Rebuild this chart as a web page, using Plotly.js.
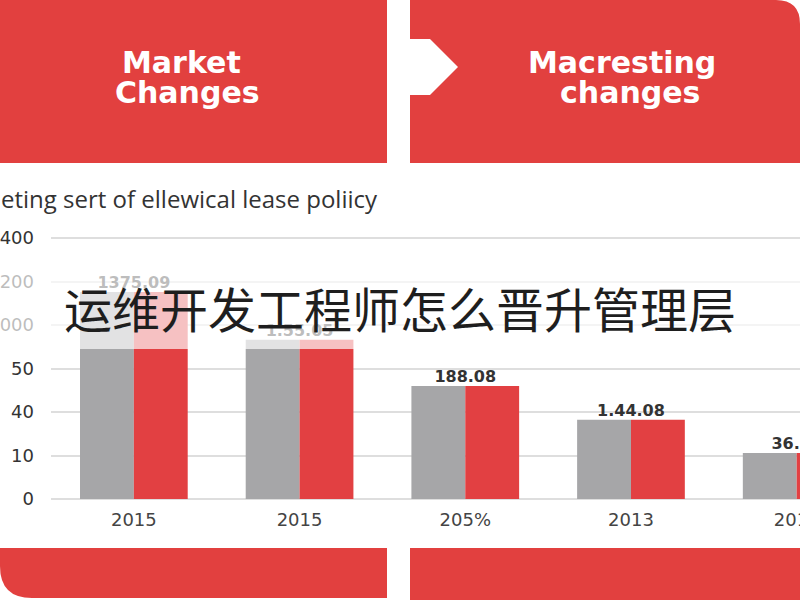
<!DOCTYPE html>
<html><head><meta charset="utf-8">
<script src="https://cdn.plot.ly/plotly-3.0.1.min.js"></script>
<style>html,body{margin:0;padding:0;background:#fff;overflow:hidden}#chart{width:800px;height:600px}</style>
</head><body><div id="chart"></div>
<script>
// ---- data ----
const categories = [0, 1, 2, 3, 4];
const tickLabels = ['2015', '2015', '205%', '2013', '2012'];
const seriesGray = [476, 366, 260, 182, 106];
const seriesRed = [476, 366, 260, 182, 106];
const barLabels = ['1375.09', '1.55.05', '188.08', '1.44.08', '36.18'];
const yTickVals = [0, 100, 200, 300, 400, 500, 600];
const yTickText = ['0', '10', '40', '50', '000', '200', '400'];
const subtitle = 'eting sert of ellewical lease poliicy';
const overlayText = '运维开发工程师怎么晋升管理层';

// ---- layout helpers (pixel -> paper) ----
const L = 51, R = 800, T = 225, B = 499;
const px = x => (x - L) / (R - L);
const py = y => (B - y) / (B - T);
const RED = '#E2403F';

const rightTop = `M ${px(410)},${py(0)} L ${px(776)},${py(0)} Q ${px(800)},${py(0)} ${px(800)},${py(24)} L ${px(800)},${py(163)} L ${px(410)},${py(163)} L ${px(410)},${py(95)} L ${px(430)},${py(95)} L ${px(458)},${py(67)} L ${px(430)},${py(39)} L ${px(410)},${py(39)} Z`;
const leftBottom = `M ${px(0)},${py(548)} L ${px(387)},${py(548)} L ${px(387)},${py(598)} L ${px(32)},${py(598)} Q ${px(0)},${py(598)} ${px(0)},${py(566)} Z`;

const traces = [
  {type: 'bar', x: categories, y: seriesGray, marker: {color: '#A6A6A8'}, hoverinfo: 'skip'},
  {type: 'bar', x: categories, y: seriesRed, marker: {color: '#E24042'}, hoverinfo: 'skip'},
  {type: 'scatter', mode: 'text', x: categories, y: seriesGray, text: barLabels,
   textposition: 'top center', cliponaxis: false, hoverinfo: 'skip',
   textfont: {family: 'DejaVu Sans', size: 16, color: '#333', weight: 'bold'}}
];

const hdr = (t, x, y) => ({text: t, x: px(x), y: py(y), xref: 'paper', yref: 'paper',
  showarrow: false, xanchor: 'center', yanchor: 'middle',
  font: {family: 'DejaVu Sans', size: 30, color: '#fff', weight: 'bold'}});

const layout = {
  width: 800, height: 600,
  margin: {l: L, r: 800 - R, t: T, b: 600 - B, pad: 0},
  paper_bgcolor: '#fff', plot_bgcolor: '#fff',
  showlegend: false,
  barmode: 'group', bargap: 0.35, bargroupgap: 0,
  xaxis: {range: [-0.5, 4.02], tickmode: 'array', tickvals: categories, ticktext: tickLabels,
    showgrid: false, zeroline: false, showline: false, ticks: '',
    ticklabelstandoff: 8, ticklabeloverflow: 'allow',
    tickfont: {family: 'DejaVu Sans', size: 18, color: '#444'}, fixedrange: true},
  yaxis: {range: [0, 630], tickmode: 'array', tickvals: yTickVals, ticktext: yTickText,
    showgrid: true, gridcolor: '#dedede', gridwidth: 2,
    zeroline: true, zerolinecolor: '#dedede', zerolinewidth: 2,
    showline: false, ticks: '', ticklabelstandoff: 16, ticklabeloverflow: 'allow',
    tickfont: {family: 'DejaVu Sans', size: 18, color: '#333'}, fixedrange: true},
  shapes: [
    {type: 'rect', xref: 'paper', yref: 'paper', x0: px(0), x1: px(387), y0: py(0), y1: py(163),
     fillcolor: RED, line: {width: 0}, layer: 'below'},
    {type: 'path', xref: 'paper', yref: 'paper', path: rightTop, fillcolor: RED, line: {width: 0}, layer: 'below'},
    {type: 'path', xref: 'paper', yref: 'paper', path: leftBottom, fillcolor: RED, line: {width: 0}, layer: 'below'},
    {type: 'rect', xref: 'paper', yref: 'paper', x0: px(410), x1: px(800), y0: py(548), y1: py(600),
     fillcolor: RED, line: {width: 0}, layer: 'below'},
    {type: 'rect', xref: 'paper', yref: 'paper', x0: px(0), x1: px(800), y0: py(349), y1: py(258),
     fillcolor: 'rgba(255,255,255,0.68)', line: {width: 0}, layer: 'above'}
  ],
  annotations: [
    hdr('Market', 181, 62), hdr('Changes', 187, 93),
    hdr('Macresting', 622, 62), hdr('changes', 630, 93),
    {text: subtitle, x: px(-1), y: py(198), xref: 'paper', yref: 'paper', showarrow: false,
     xanchor: 'left', yanchor: 'middle', font: {family: 'Open Sans', size: 24, color: '#333'}},
    {text: overlayText, x: px(400), y: py(307), xref: 'paper', yref: 'paper', showarrow: false,
     xanchor: 'center', yanchor: 'middle', font: {family: 'Noto Sans CJK SC', size: 48, color: '#1e1e1e'}}
  ]
};

Plotly.newPlot('chart', traces, layout, {displayModeBar: false, staticPlot: true});
</script></body></html>
